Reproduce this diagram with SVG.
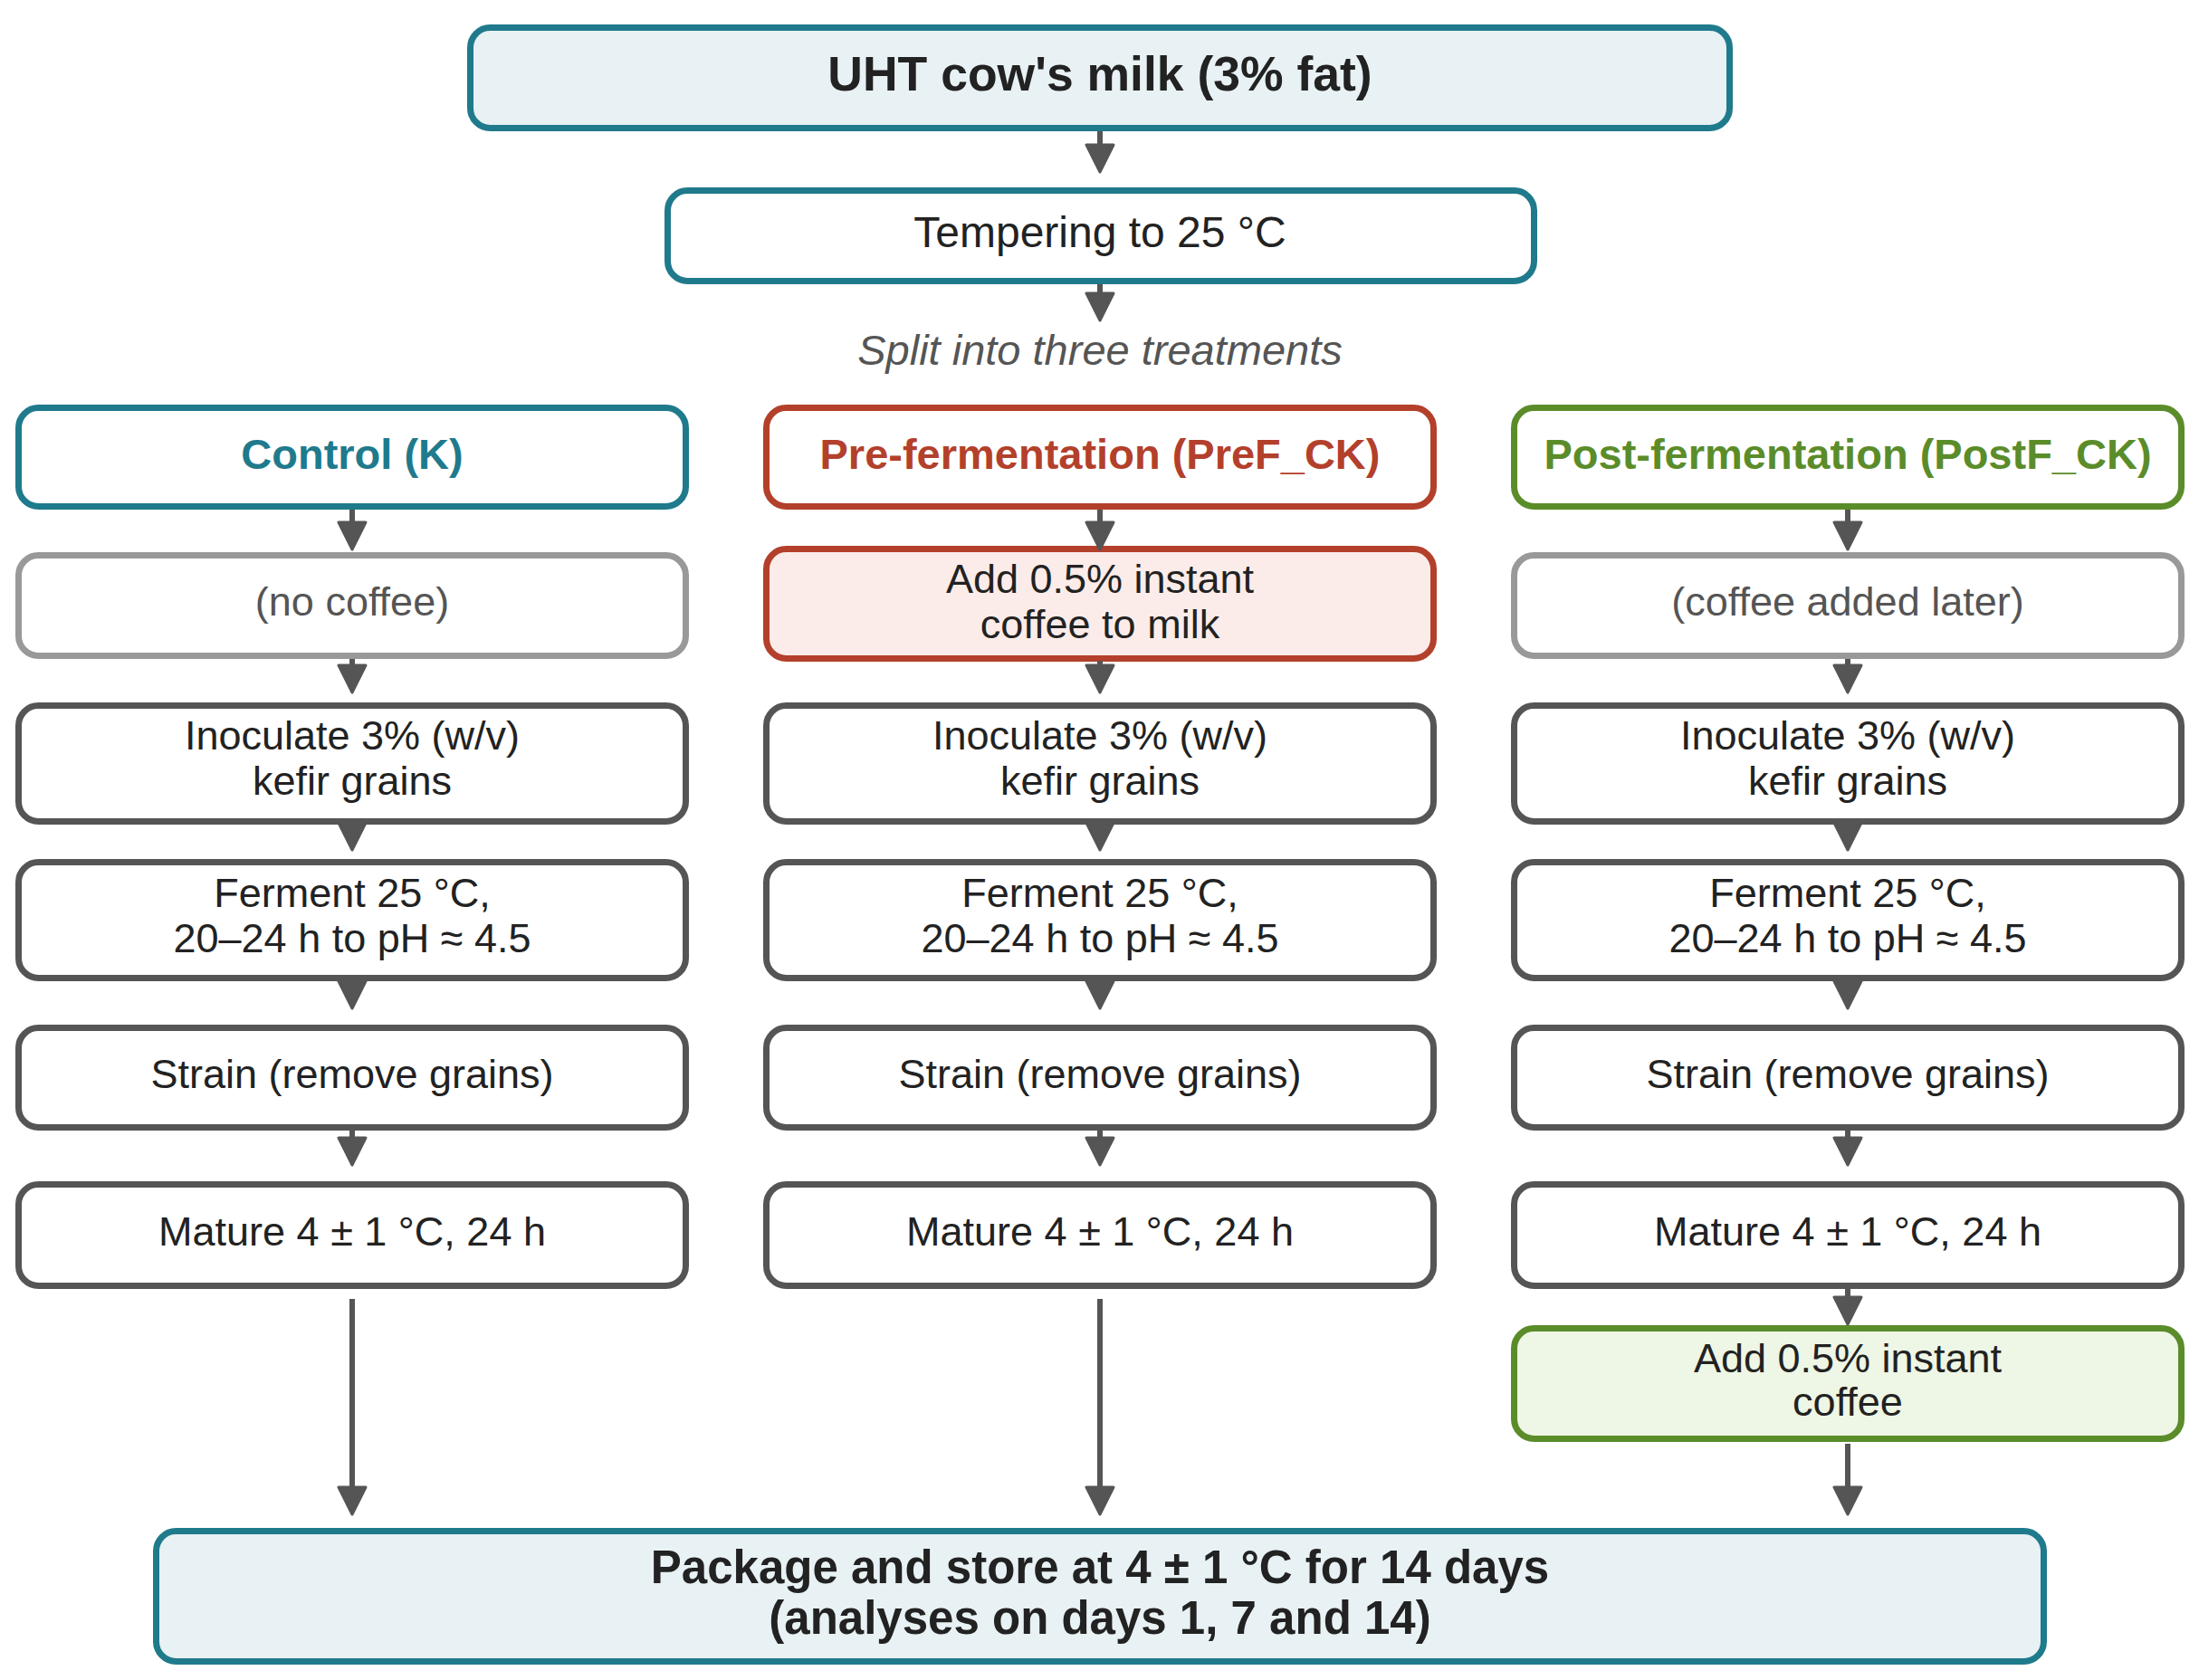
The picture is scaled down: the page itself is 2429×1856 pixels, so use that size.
<svg xmlns="http://www.w3.org/2000/svg" width="2429" height="1856" viewBox="0 0 2429 1856">
<style>
text{font-family:"Liberation Sans",Arial,Helvetica,sans-serif;text-anchor:middle;fill:#222}
.b{font-weight:bold}
.t{font-size:45px}
.h{font-size:47px;font-weight:bold}
.g{fill:#555}
.box{stroke-width:7;fill:#fff}
.teal{stroke:#1F7A8C}
.tealf{stroke:#1F7A8C;fill:#E8F1F4}
.red{stroke:#B3402B}
.redf{stroke:#B3402B;fill:#FBECE9}
.grn{stroke:#5B8C2A}
.grnf{stroke:#5B8C2A;fill:#EEF6E5}
.gry{stroke:#999}
.dk{stroke:#555}
.con path{stroke:#555;stroke-width:6;fill:none;marker-end:url(#ah)}
</style>
<defs>
<marker id="ah" viewBox="0 0 34 34" markerWidth="34" markerHeight="34" markerUnits="userSpaceOnUse" refX="12" refY="17" orient="auto">
<path d="M2,2 L32,17 L2,32 Z" fill="#555" stroke="#555" stroke-width="3" stroke-linejoin="round"/>
</marker>
</defs>

<g id="n-milk"><rect class="box tealf" x="519.5" y="30.5" width="1391" height="111" rx="22"/><text class="b" x="1215" y="100" font-size="53.5">UHT cow's milk (3% fat)</text></g>
<g id="n-temper"><rect class="box teal" x="737.5" y="210.5" width="957" height="100" rx="22"/><text class="t" x="1215" y="273" font-size="48" style="font-size:48px">Tempering to 25 °C</text></g>
<g id="n-split"><text class="g" x="1215" y="403" font-style="italic" style="font-size:47px">Split into three treatments</text></g>

<g id="n-k-head"><rect class="box teal" x="20.5" y="450.5" width="737" height="109" rx="22"/><text class="h" x="389" y="518" style="fill:#1F7A8C">Control (K)</text></g>
<g id="n-pre-head"><rect class="box red" x="846.5" y="450.5" width="737" height="109" rx="22"/><text class="h" x="1215" y="518" style="fill:#B3402B">Pre-fermentation (PreF_CK)</text></g>
<g id="n-post-head"><rect class="box grn" x="1672.5" y="450.5" width="737" height="109" rx="22"/><text class="h" x="2041" y="518" style="fill:#5B8C2A">Post-fermentation (PostF_CK)</text></g>

<g id="n-k-nocoffee"><rect class="box gry" x="20.5" y="613.5" width="737" height="111" rx="22"/><text class="t g" x="389" y="680">(no coffee)</text></g>
<g id="n-pre-add"><rect class="box redf" x="846.5" y="606.5" width="737" height="121" rx="22"/><text class="t" x="1215" y="655">Add 0.5% instant</text><text class="t" x="1215" y="705">coffee to milk</text></g>
<g id="n-post-later"><rect class="box gry" x="1672.5" y="613.5" width="737" height="111" rx="22"/><text class="t g" x="2041" y="680">(coffee added later)</text></g>

<g id="n-k-inoc"><rect class="box dk" x="20.5" y="779.5" width="737" height="128" rx="22"/><text class="t" x="389" y="828">Inoculate 3% (w/v)</text><text class="t" x="389" y="878">kefir grains</text></g>
<g id="n-pre-inoc"><rect class="box dk" x="846.5" y="779.5" width="737" height="128" rx="22"/><text class="t" x="1215" y="828">Inoculate 3% (w/v)</text><text class="t" x="1215" y="878">kefir grains</text></g>
<g id="n-post-inoc"><rect class="box dk" x="1672.5" y="779.5" width="737" height="128" rx="22"/><text class="t" x="2041" y="828">Inoculate 3% (w/v)</text><text class="t" x="2041" y="878">kefir grains</text></g>

<g id="n-k-ferm"><rect class="box dk" x="20.5" y="952.5" width="737" height="128" rx="22"/><text class="t" x="389" y="1002">Ferment 25 °C,</text><text class="t" x="389" y="1052">20–24 h to pH ≈ 4.5</text></g>
<g id="n-pre-ferm"><rect class="box dk" x="846.5" y="952.5" width="737" height="128" rx="22"/><text class="t" x="1215" y="1002">Ferment 25 °C,</text><text class="t" x="1215" y="1052">20–24 h to pH ≈ 4.5</text></g>
<g id="n-post-ferm"><rect class="box dk" x="1672.5" y="952.5" width="737" height="128" rx="22"/><text class="t" x="2041" y="1002">Ferment 25 °C,</text><text class="t" x="2041" y="1052">20–24 h to pH ≈ 4.5</text></g>

<g id="n-k-strain"><rect class="box dk" x="20.5" y="1135.5" width="737" height="110" rx="22"/><text class="t" x="389" y="1202">Strain (remove grains)</text></g>
<g id="n-pre-strain"><rect class="box dk" x="846.5" y="1135.5" width="737" height="110" rx="22"/><text class="t" x="1215" y="1202">Strain (remove grains)</text></g>
<g id="n-post-strain"><rect class="box dk" x="1672.5" y="1135.5" width="737" height="110" rx="22"/><text class="t" x="2041" y="1202">Strain (remove grains)</text></g>

<g id="n-k-mature"><rect class="box dk" x="20.5" y="1308.5" width="737" height="112" rx="22"/><text class="t" x="389" y="1376">Mature 4 ± 1 °C, 24 h</text></g>
<g id="n-pre-mature"><rect class="box dk" x="846.5" y="1308.5" width="737" height="112" rx="22"/><text class="t" x="1215" y="1376">Mature 4 ± 1 °C, 24 h</text></g>
<g id="n-post-mature"><rect class="box dk" x="1672.5" y="1308.5" width="737" height="112" rx="22"/><text class="t" x="2041" y="1376">Mature 4 ± 1 °C, 24 h</text></g>

<g id="n-post-add"><rect class="box grnf" x="1672.5" y="1467.5" width="737" height="122" rx="22"/><text class="t" x="2041" y="1516">Add 0.5% instant</text><text class="t" x="2041" y="1564">coffee</text></g>

<g id="n-package"><rect class="box tealf" x="172.5" y="1691.5" width="2085" height="144" rx="22"/><text class="b" x="1215" y="1749" font-size="51">Package and store at 4 ± 1 °C for 14 days</text><text class="b" x="1215" y="1805" font-size="51">(analyses on days 1, 7 and 14)</text></g>

<g id="connectors" class="con">
<path d="M1215,145 V170"/>
<path d="M1215,314 V334"/>
<path d="M389,563 V587"/>
<path d="M1215,563 V587"/>
<path d="M2041,563 V587"/>
<path d="M389,728 V745"/>
<path d="M1215,730 V745"/>
<path d="M2041,728 V745"/>
<path d="M389,910 V919"/>
<path d="M1215,910 V919"/>
<path d="M2041,910 V919"/>
<path d="M389,1083 V1094"/>
<path d="M1215,1083 V1094"/>
<path d="M2041,1083 V1094"/>
<path d="M389,1248 V1267"/>
<path d="M1215,1248 V1267"/>
<path d="M2041,1248 V1267"/>
<path d="M389,1435 V1653"/>
<path d="M1215,1435 V1653"/>
<path d="M2041,1423 V1443"/>
<path d="M2041,1595 V1653"/>
</g>
</svg>
